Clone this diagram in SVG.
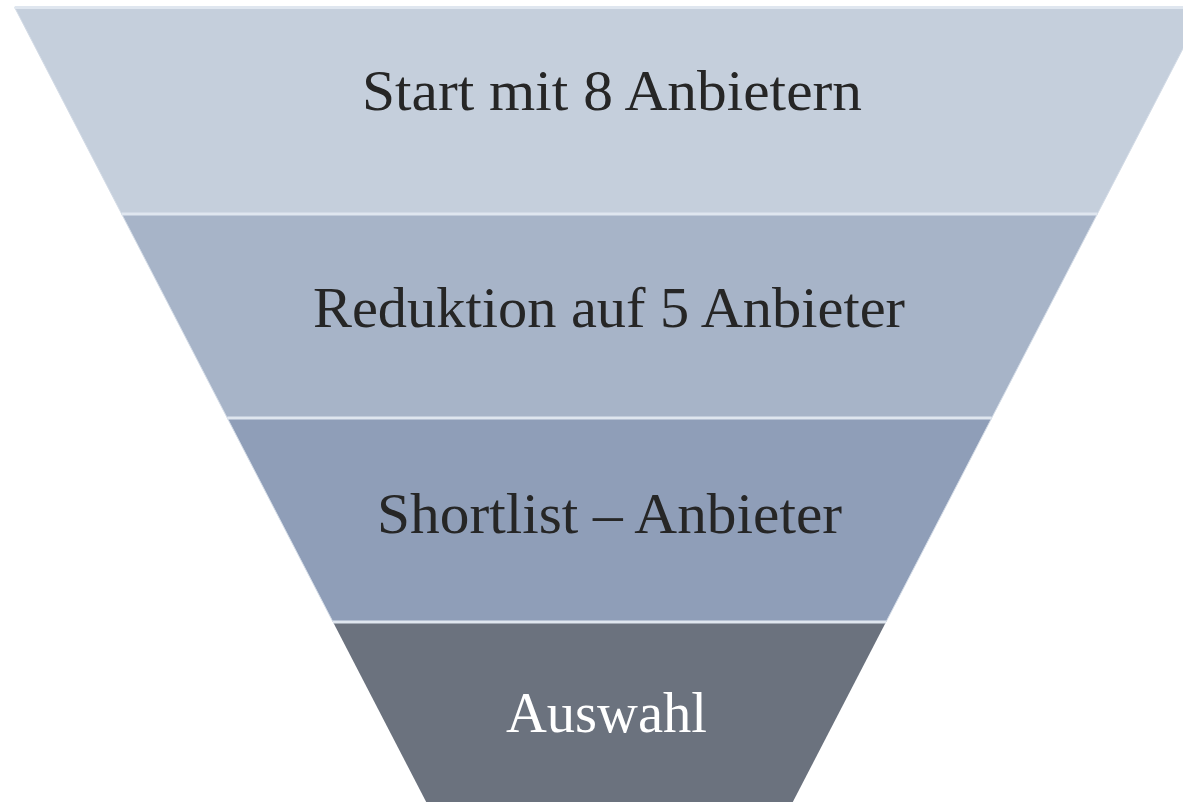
<svg xmlns="http://www.w3.org/2000/svg" width="1183" height="802" viewBox="0 0 1183 802">
<style>
.lbl{font-family:"Liberation Serif","DejaVu Serif",serif;font-size:56px;fill:#262626;text-anchor:middle}
.lblw{fill:#ffffff}
.sep{stroke:#dfe6ef;stroke-width:3;fill:none}
.band{stroke:#d3dbe6;stroke-width:1}
</style>
<rect width="1183" height="802" fill="#ffffff"/>
<g id="band1">
<polygon class="band" points="14.7,7.5 1204.3,7.5 1097.3,214 121.7,214" fill="#c5cfdc"/>
<text class="lbl" x="612" y="110" textLength="500" lengthAdjust="spacingAndGlyphs">Start mit 8 Anbietern</text>
</g>
<g id="band2">
<polygon class="band" points="121.7,214 1097.3,214 991.7,418 227.3,418" fill="#a7b4c8"/>
<text class="lbl" x="609" y="327" textLength="592" lengthAdjust="spacingAndGlyphs">Reduktion auf 5 Anbieter</text>
</g>
<g id="band3">
<polygon class="band" points="227.3,418 991.7,418 886,622 333,622" fill="#8f9eb8"/>
<text class="lbl" x="609.5" y="533" textLength="465" lengthAdjust="spacingAndGlyphs">Shortlist – Anbieter</text>
</g>
<g id="band4">
<polygon points="333,622 886,622 792.8,802 426.2,802" fill="#6b727e"/>
<text class="lbl lblw" x="606.5" y="732" textLength="201" lengthAdjust="spacingAndGlyphs">Auswahl</text>
</g>
<g id="connectors">
<line class="sep" x1="14.7" y1="7.5" x2="1204" y2="7.5"/>
<line class="sep" x1="121.7" y1="214" x2="1097.3" y2="214"/>
<line class="sep" x1="227.3" y1="418" x2="991.7" y2="418"/>
<line class="sep" x1="333" y1="622" x2="886" y2="622"/>
</g>
</svg>
